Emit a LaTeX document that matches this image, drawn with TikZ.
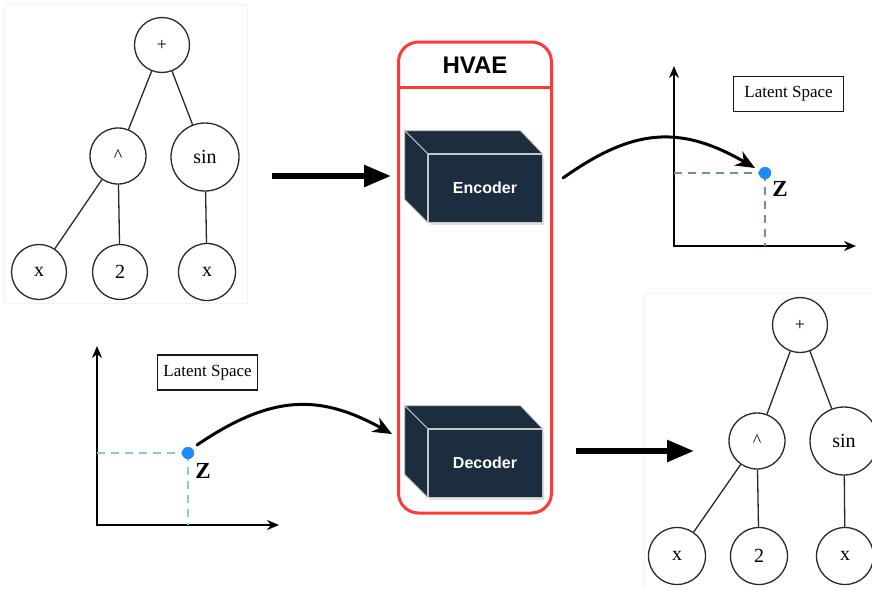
\documentclass[tikz,border=0pt]{standalone}
\usepackage{fontspec}
\setmainfont{Liberation Serif}
\newfontfamily\arialf{Liberation Sans}
\usetikzlibrary{arrows.meta,shadows}
\definecolor{hvred}{RGB}{255,56,56}
\definecolor{navy}{RGB}{27,45,63}
\definecolor{dotblue}{RGB}{26,140,255}
\definecolor{dashA}{RGB}{105,145,160}
\definecolor{dashB}{RGB}{140,198,222}
\definecolor{treeline}{RGB}{40,40,40}
\begin{document}
\begin{tikzpicture}[x=1pt,y=-1pt,
  tnode/.style={circle,draw=treeline,line width=1.3pt,inner sep=0pt,minimum size=#1,font=\fontsize{20}{24}\selectfont},
  tnode/.default=55pt,
  tedge/.style={draw=treeline,line width=1.3pt},
  small/.style={font=\fontsize{18}{20}\selectfont},
  cubefront/.style={fill=navy,draw=gray!45,line width=0.8pt,minimum width=114pt,minimum height=68pt,inner sep=0pt,
    text=white,font=\arialf\bfseries\fontsize{16}{19}\selectfont,
    drop shadow={shadow xshift=2pt,shadow yshift=-3pt,opacity=0.25}},
  cubeside/.style={fill=navy,draw=gray!45,line width=0.8pt,line join=round},
  bigarrow/.style={line width=5.5pt,-{Triangle[length=27pt,width=21pt]}},
  curvearrow/.style={line width=3pt,line cap=round,-{Stealth[length=19pt,width=16pt,inset=6pt]}},
  axis/.style={line width=1.8pt,{Stealth[length=12pt,width=10pt]}-{Stealth[length=12pt,width=10pt]}},
  lsbox/.style={draw=black!90,line width=1.8pt,minimum width=#1,minimum height=35pt,
    inner sep=0pt,font=\fontsize{17}{19}\selectfont},
  zdot/.style={circle,fill=dotblue,inner sep=0pt,minimum size=12pt},
  zlab/.style={font=\bfseries\fontsize{23}{26}\selectfont},
  panel/.style={draw=black!5,line width=0.8pt}
]
\useasboundingbox (0,0) rectangle (872,589);

% panels
\draw[panel] (4,4) rectangle (247,303);
\draw[panel] (644,589) -- (644,293) -- (872,293);

% top-left tree
\node[tnode,small] (p1) at (162,45) {+};
\node[tnode=56pt,small] (c1) at (118,156) {\textasciicircum};
\node[tnode=68pt] (s1) at (205,157) {sin};
\node[tnode] (x1) at (39,272) {x};
\node[tnode] (n1) at (120,272) {2};
\node[tnode=57pt] (x2) at (207,272) {x};
\draw[tedge] (p1) -- (c1);
\draw[tedge] (p1) -- (s1);
\draw[tedge] (c1) -- (x1);
\draw[tedge] (c1) -- (n1);
\draw[tedge] (s1) -- (x2);

% bottom-right tree
\node[tnode,small] (p2) at (800,325) {+};
\node[tnode=56pt,small] (c2) at (757,441) {\textasciicircum};
\node[tnode=68pt] (s2) at (844,441) {sin};
\node[tnode=57pt] (x3) at (677,556) {x};
\node[tnode=57pt] (n2) at (759,556) {2};
\node[tnode=57pt] (x4) at (845,556) {x};
\draw[tedge] (p2) -- (c2);
\draw[tedge] (p2) -- (s2);
\draw[tedge] (c2) -- (x3);
\draw[tedge] (c2) -- (n2);
\draw[tedge] (s2) -- (x4);

% HVAE container
\node[draw=hvred,line width=3pt,rounded corners=20pt,minimum width=153pt,minimum height=471pt,inner sep=0pt] (hvae) at (475,277.5) {};
\coordinate (hdr) at (0,87.5);
\draw[hvred,line width=3pt] (hvae.west |- hdr) -- (hvae.east |- hdr);
\node[font=\arialf\bfseries\fontsize{24}{28}\selectfont] (title) at (475,65) {HVAE};

% Encoder cuboid
\node[cubefront] (enc) at (485,188) {Encoder};
\draw[cubeside] (enc.north west) -- ++(-23,-23) -- ([shift={(-22,-23)}]enc.north east) -- (enc.north east) -- cycle;
\draw[cubeside] (enc.north west) -- ++(-23,-23) -- ([shift={(-23,-23)}]enc.south west) -- (enc.south west) -- cycle;

% Decoder cuboid
\node[cubefront] (dec) at (485,463) {Decoder};
\draw[cubeside] (dec.north west) -- ++(-23,-23) -- ([shift={(-22,-23)}]dec.north east) -- (dec.north east) -- cycle;
\draw[cubeside] (dec.north west) -- ++(-23,-23) -- ([shift={(-23,-23)}]dec.south west) -- (dec.south west) -- cycle;

% main arrows
\coordinate (a1s) at (272,176);
\coordinate (a1e) at (391,176);
\coordinate (a2s) at (576,451);
\coordinate (a2e) at (694,451);
\draw[bigarrow] (a1s) -- (a1e);
\draw[bigarrow] (a2s) -- (a2e);

% top-right latent space
\coordinate (o1) at (674,246);
\coordinate (o1y) at (674,66);
\coordinate (o1x) at (856,246);
\draw[axis] (o1y) -- (o1) -- (o1x);
\node[lsbox=110pt] (ls1) at (788.5,94) {Latent Space};
\node[zdot] (d1) at (765,173) {};
\draw[dashA,line width=1.1pt,dash pattern=on 8pt off 6pt] (o1 |- d1) -- (d1.center);
\draw[dashA,line width=1.1pt,dash pattern=on 8pt off 6pt] (d1.center) -- (d1 |- o1);
\node[zdot] at (d1) {};
\node[zlab] (z1) at (780,189) {Z};

% bottom-left latent space
\coordinate (o2) at (97,525);
\coordinate (o2y) at (97,346);
\coordinate (o2x) at (279,525);
\draw[axis] (o2y) -- (o2) -- (o2x);
\node[lsbox=100pt] (ls2) at (207.5,372.5) {Latent Space};
\node[zdot] (d2) at (188,453) {};
\draw[dashB,line width=1.1pt,dash pattern=on 8pt off 6pt] (o2 |- d2) -- (d2.center);
\draw[dashB,line width=1.1pt,dash pattern=on 8pt off 6pt] (d2.center) -- (d2 |- o2);
\node[zdot] at (d2) {};
\node[zlab] (z2) at (203,471) {Z};

% curved arrows
\coordinate (c1s) at (563,178);
\coordinate (c1e) at (755,168);
\draw[curvearrow] (c1s) .. controls (632,129) and (679,124) .. (c1e);
\coordinate (c2s) at (197,445);
\coordinate (c2e) at (392,434);
\draw[curvearrow] (c2s) .. controls (272,394) and (320,394) .. (c2e);
\end{tikzpicture}
\end{document}
